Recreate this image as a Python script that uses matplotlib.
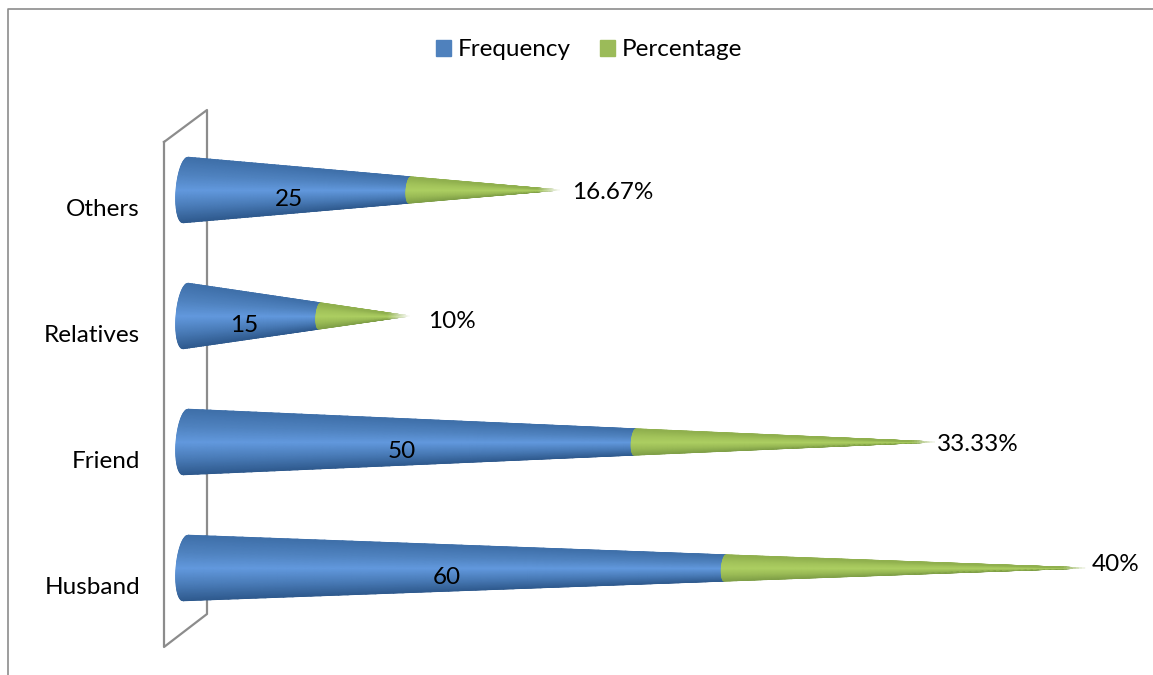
import numpy as np
import matplotlib
matplotlib.use("Agg")
import matplotlib.pyplot as plt
from matplotlib.colors import LinearSegmentedColormap
from matplotlib.lines import Line2D
from matplotlib.patches import Patch
from matplotlib.transforms import IdentityTransform

plt.rcParams["font.family"] = ["Lato", "DejaVu Sans"]

categories = ["Husband", "Friend", "Relatives", "Others"]
frequency = [60, 50, 15, 25]
percentage = [40, 33.33, 10, 16.67]
percentage_labels = ["40%", "33.33%", "10%", "16.67%"]

WIDTH, HEIGHT = 1153, 675
FONT_SIZE = 17.5
GREY = "#8c8c8c"

BLUE = LinearSegmentedColormap.from_list(
    "blue_cone", ["#2f5a8e", "#4a7cb8", "#6299de", "#4f82bf", "#3f70aa"]
)
GREEN = LinearSegmentedColormap.from_list(
    "green_cone", ["#7f9f47", "#9abb56", "#adcf62", "#a2c35a", "#90b04e"]
)

# cones sit a little above their category tick because of the 3-D view
CONE_SHIFT = 0.135
CONE_HALF = 0.26
# base ellipse, in value units
BASE_OFFSET = 0.17
BASE_TILT = 0.28
BASE_RADIUS = 1.05
# the needle point dissolves into the white background over this many value units
TIP_FADE = 2.5


def draw_cone_part(ax, y, total, u_start, u_end, cmap):
    u = np.linspace(u_start, u_end, 60)
    v = np.linspace(-1, 1, 81)
    uu, vv = np.meshgrid(u, v)
    base = BASE_OFFSET + BASE_TILT * vv - BASE_RADIUS * np.sqrt(1 - vv**2)
    xx = base * (1 - uu) + total * uu
    yy = y + vv * CONE_HALF * (1 - uu)
    colors = cmap((vv + 1) / 2)
    fade = np.clip((total - xx) / TIP_FADE, 0, 1)[..., None]
    colors[..., :3] = colors[..., :3] * fade + (1 - fade)
    ax.pcolormesh(xx, yy, colors, shading="gouraud", clip_on=False, zorder=3)


fig = plt.figure(figsize=(WIDTH / 100, HEIGHT / 100), dpi=100)
ax = fig.add_axes([184 / WIDTH, 1 - 648 / HEIGHT, 901 / WIDTH, 504 / HEIGHT])
ax.set_xlim(0, 100)
ax.set_ylim(-0.5, 3.5)

positions = np.arange(len(categories))
label_dx = [7, 2, 19, 12.5]
label_dy = [3, -3, -6, -3]

for i, (f, p) in enumerate(zip(frequency, percentage)):
    total = f + p
    y = positions[i] + CONE_SHIFT
    split = f / total
    draw_cone_part(ax, y, total, 0, split, BLUE)
    draw_cone_part(ax, y, total, split, 1, GREEN)
    ax.annotate(str(f), (f / 2, y), xytext=(-5.5, -6.5), textcoords="offset points",
                ha="center", va="center", fontsize=FONT_SIZE, color="black", zorder=5)
    ax.annotate(percentage_labels[i], (total, y), xytext=(label_dx[i] * 0.72, label_dy[i] * 0.72),
                textcoords="offset points", ha="left", va="center",
                fontsize=FONT_SIZE, color="black", zorder=5)

ax.set_yticks(positions)
ax.set_yticklabels(categories, fontsize=FONT_SIZE)
ax.tick_params(axis="y", length=0, pad=31.7)
ax.set_xticks([])
for spine in ax.spines.values():
    spine.set_visible(False)
ax.patch.set_alpha(0)

# back wall of the 3-D plot, drawn in pixels
wall_x = [164, 207, 207, 164, 164]
wall_y = [142, 110, 614, 647, 142]
fig.add_artist(Line2D(wall_x, [HEIGHT - v for v in wall_y], color=GREY, lw=1.6,
                      transform=IdentityTransform(), zorder=0))

# outer chart border, open on the right and bottom
fig.add_artist(Line2D([8, 8, WIDTH], [0, HEIGHT - 8.5, HEIGHT - 8.5], color=GREY, lw=1.2,
                      transform=IdentityTransform(), zorder=0))

handles = [Patch(color="#4f81bd", label="Frequency"), Patch(color="#9bbb59", label="Percentage")]
fig.legend(handles=handles, loc="center", bbox_to_anchor=(589 / WIDTH, 1 - 50 / HEIGHT), ncol=2,
           frameon=False, fontsize=FONT_SIZE, handlelength=0.62, handleheight=0.62,
           handletextpad=0.29, columnspacing=1.2)

fig.savefig("out.png", dpi=100)
